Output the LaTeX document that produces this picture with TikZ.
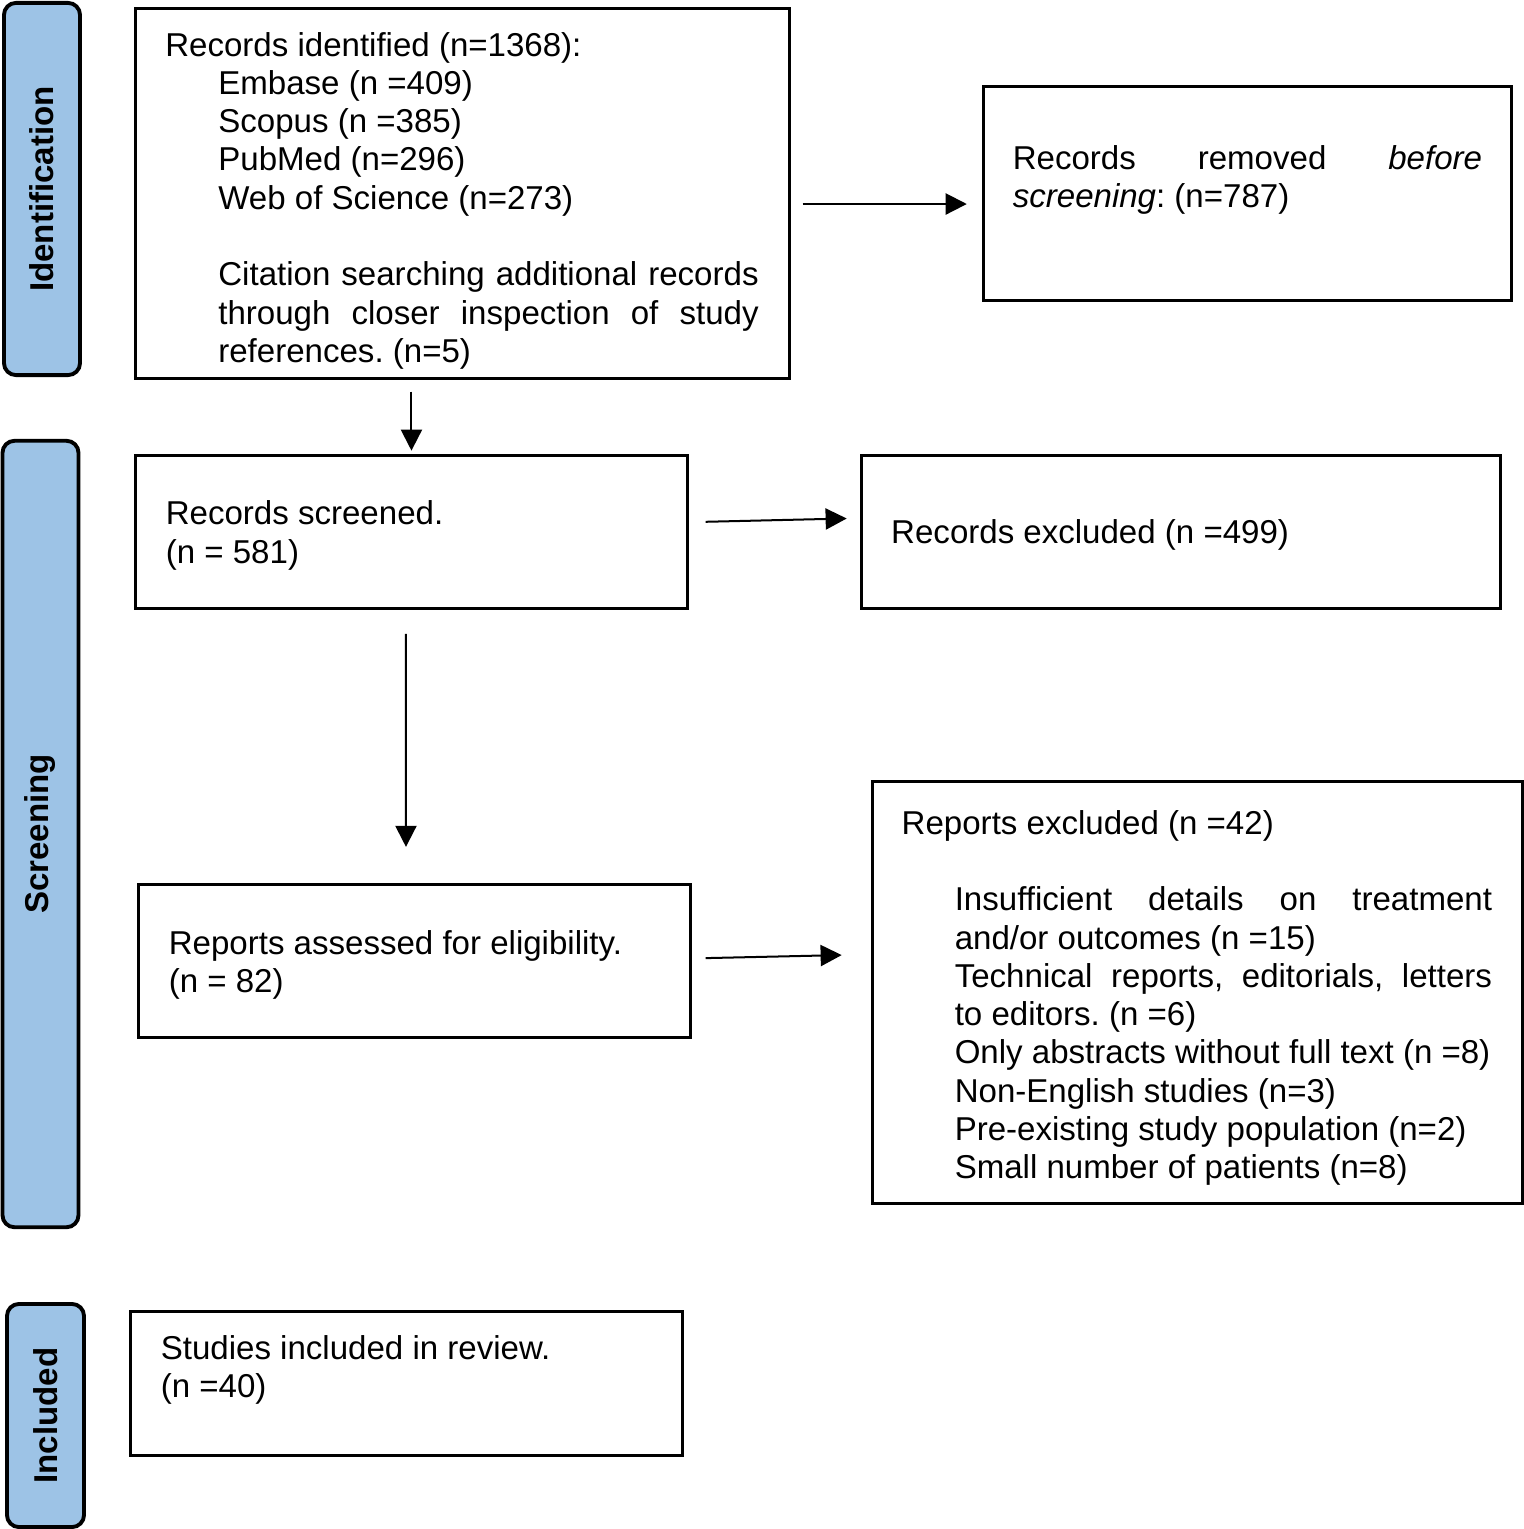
\documentclass[tikz,border=0pt]{standalone}
\usepackage{fontspec}
\setsansfont{Liberation Sans}
\usetikzlibrary{positioning,arrows.meta}
\definecolor{stageblue}{HTML}{9DC3E6}
\newcommand{\spread}[2]{\makebox[#1][s]{#2}}
\newcommand{\ind}{\hspace*{0.53cm}}

\begin{document}
\begin{tikzpicture}[x=0.01cm, y=-0.01cm, node distance=1cm,
                    main node/.style={draw,line width=0.85pt,inner sep=0pt,
                                      font=\sffamily\frenchspacing\fontsize{9.4}{10.88}\selectfont,
                                      execute at begin node={\spaceskip=0pt\xspaceskip=0pt\rule{0pt}{8.9pt}}},
                    stage node/.style={draw,line width=1.1pt,fill=stageblue,rounded corners=0.12cm,
                                       rotate=90,inner sep=0pt,minimum height=0.76cm,
                                       font=\sffamily\bfseries\fontsize{9.4}{10.88}\selectfont},
                    flow arrow/.style={line width=0.57pt,-{Triangle[length=6pt,width=6pt]}}]
  \useasboundingbox (0,0) rectangle (1524,1529);

  \node[stage node, minimum width=3.72cm] (ident) at (42,189) {Identification};
  \node[stage node, minimum width=7.86cm] (screen) at (40.5,834) {Screening};
  \node[stage node, minimum width=2.23cm, minimum height=0.77cm] (incl) at (45.5,1415.5) {Included};

  \node[main node, minimum width=6.53cm, minimum height=3.69cm, text width=5.94cm] (A) at (462.5,193.5)
    {\rule{0pt}{10.9pt}Records identified (n=1368):\\
     \ind Embase (n =409)\\
     \ind Scopus (n =385)\\
     \ind PubMed (n=296)\\
     \ind Web of Science (n=273)\\[10.88pt]
     \ind\spread{5.40cm}{Citation searching additional records}\\
     \ind\spread{5.40cm}{through closer inspection of study}\\
     \ind references. (n=5)};
  \node[main node, minimum width=5.28cm, minimum height=2.13cm, text width=4.69cm] (B) [right=1.91cm of A]
    {\spread{4.69cm}{Records removed \textit{before}}\\
     \textit{screening}: (n=787)\rule[-0.41cm]{0pt}{0.41cm}};
  \node[main node, minimum width=5.51cm, minimum height=1.53cm, text width=4.91cm] (C)
    [below=0.74cm of A.south west, anchor=north west]
    {Records screened.\\(n = 581)};
  \node[main node, minimum width=6.39cm, minimum height=1.53cm, text width=5.79cm] (D) [right=1.71cm of C]
    {Records excluded (n =499)};
  \node[main node, minimum width=5.51cm, minimum height=1.53cm, text width=4.91cm] (E)
    [below=2.73cm of C.south west, anchor=north west, xshift=0.03cm]
    {Reports assessed for eligibility.\\(n = 82)};
  \node[main node, minimum width=6.50cm, minimum height=4.22cm, text width=5.91cm] (F)
    [below=1.70cm of D.south west, anchor=north west, xshift=0.11cm]
    {\rule{0pt}{9.9pt}Reports excluded (n =42)\\[10.88pt]
     \ind\spread{5.37cm}{Insufficient details on treatment}\\
     \ind and/or outcomes (n =15)\\
     \ind\spread{5.37cm}{Technical reports, editorials, letters}\\
     \ind to editors. (n =6)\\
     \ind Only abstracts without full text (n =8)\\
     \ind Non-English studies (n=3)\\
     \ind Pre-existing study population (n=2)\\
     \ind Small number of patients (n=8)};
  \node[main node, minimum width=5.51cm, minimum height=1.44cm, text width=4.91cm] (G)
    [below=2.71cm of E.south west, anchor=north west, xshift=-0.08cm]
    {Studies included in review.\\(n =40)\rule[-0.41cm]{0pt}{0.41cm}};

  \path[flow arrow]
  ([yshift=-0.105cm]A.east) edge [shorten <=0.12cm, shorten >=0.15cm] ([yshift=-0.105cm]B.west)
  (C.north |- A.south) edge [shorten <=0.12cm, shorten >=0.03cm] (C.north)
  ([yshift=0.095cm]C.east) edge [shorten <=0.17cm, shorten >=0.13cm] ([yshift=0.135cm]D.west)
  ([xshift=-0.055cm]C.south) edge [shorten <=0.24cm, shorten >=0.36cm] ([xshift=-0.085cm]E.north)
  ([yshift=0.025cm]E.east) edge [shorten <=0.14cm, shorten >=0.29cm] ([yshift=0.38cm]F.west)
  ;
\end{tikzpicture}
\end{document}
